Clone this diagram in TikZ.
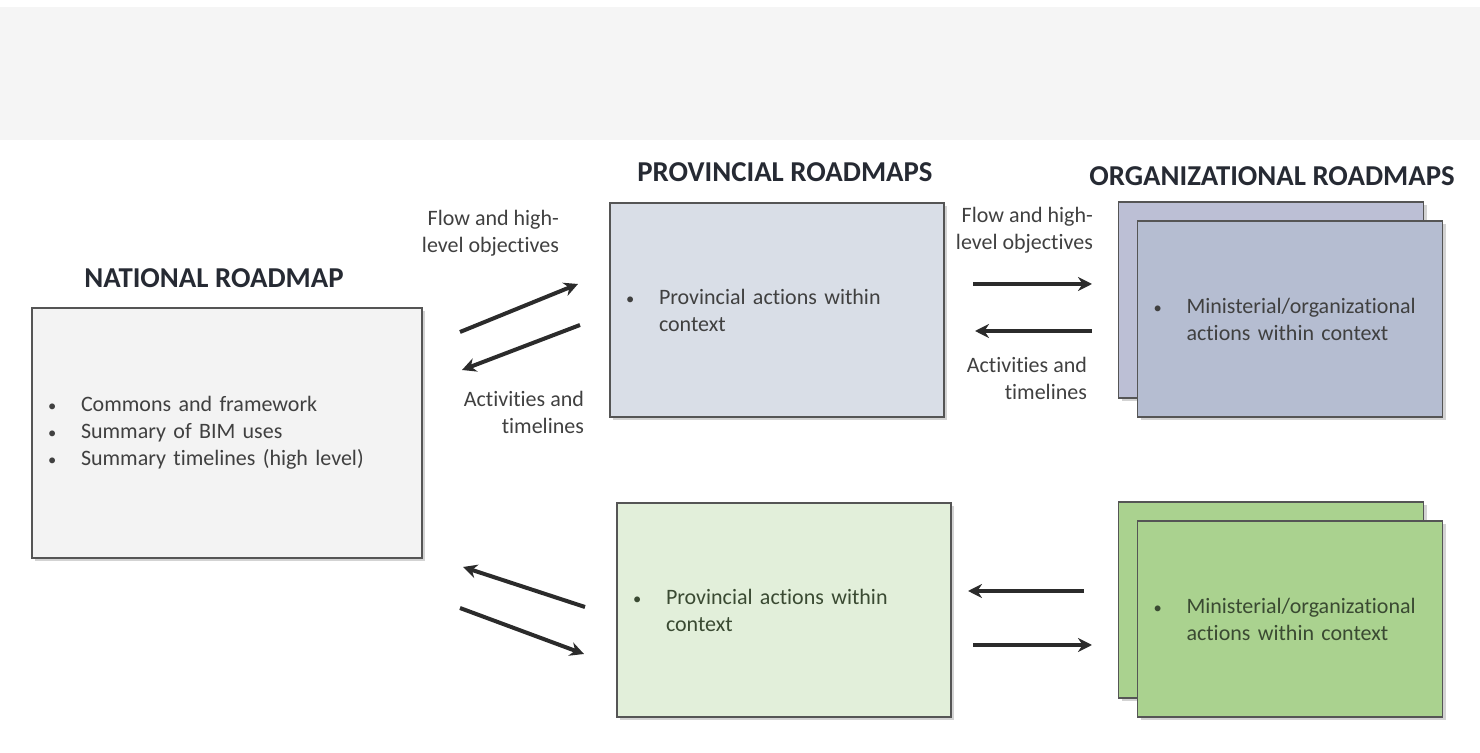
\documentclass[tikz,border=0pt]{standalone}
\usepackage{fontspec}
\setmainfont{Carlito}[Ligatures=NoCommon]
\usepackage{tikz}
\usetikzlibrary{arrows.meta, shadows}

\definecolor{bandgray}{HTML}{F5F5F5}
\definecolor{natfill}{HTML}{F3F3F3}
\definecolor{provfill}{HTML}{D9DEE7}
\definecolor{orgbackfill}{HTML}{BCBFD5}
\definecolor{orgfill}{HTML}{B5BDD1}
\definecolor{provgreen}{HTML}{E2EFDA}
\definecolor{orggreen}{HTML}{AAD28F}
\definecolor{boxline}{HTML}{555555}
\definecolor{arrowcol}{HTML}{2B2B2B}
\definecolor{textcol}{HTML}{404040}
\definecolor{greentext}{HTML}{3A4A32}
\definecolor{titlecol}{HTML}{262A33}

\newcommand{\bitem}[1]{\makebox[16.5pt][l]{\scalebox{0.75}{\textbullet}}#1}
\newcommand{\bcont}{\hspace*{16.5pt}}

\tikzset{
  roadbox/.style={draw=boxline, line width=0.8pt, align=left, inner xsep=8pt,
    text=textcol, font=\fontsize{11}{13.5}\selectfont,
    drop shadow={opacity=0.35, shadow xshift=1.5pt, shadow yshift=-1.5pt}},
  title/.style={font=\fontsize{14.4}{17}\selectfont\bfseries, text=titlecol},
  flowlabel/.style={anchor=east, align=right, text=textcol, font=\fontsize{11}{13.5}\selectfont},
  flow/.style={->, line width=2pt, draw=arrowcol},
}

\begin{document}
\begin{tikzpicture}[x=0.5pt, y=-0.5pt, >={Stealth[length=7pt,width=7pt]}]
  \useasboundingbox (0,0) rectangle (1480,753);
  % bandeau gris en haut
  \fill[bandgray] (0,7) rectangle (1480,140);

  % titres
  \node[title] (natTitle) at (214,278) {NATIONAL ROADMAP};
  \node[title] (provTitle) at (785,172) {PROVINCIAL ROADMAPS};
  \node[title] (orgTitle) at (1272,176) {ORGANIZATIONAL ROADMAPS};

  % feuille de route nationale
  \node[roadbox, fill=natfill, text width=179pt, minimum height=125pt] (nat) at (227,433)
    {\bitem{Commons and framework}\\ \bitem{Summary of BIM uses}\\ \bitem{Summary timelines (high level)}};

  % provinces
  \node[roadbox, fill=provfill, text width=151pt, minimum height=107pt] (provA) at (777,310)
    {\bitem{Provincial actions within}\\ \bcont context\\[14pt]};
  \node[roadbox, fill=provgreen, text=greentext, text width=151pt, minimum height=107pt] (provB) at (784,610)
    {\bitem{Provincial actions within}\\ \bcont context\\[14pt]};

  % organisations (piles de deux feuilles)
  \node[roadbox, fill=orgbackfill, text width=136.5pt, minimum height=98pt] (orgAback) at (1271,300) {};
  \node[roadbox, fill=orgfill, text width=136.5pt, minimum height=98pt] (orgA) at (1290,319)
    {\bitem{Ministerial/organizational}\\ \bcont actions within context};
  \node[roadbox, fill=orggreen, text width=136.5pt, minimum height=98pt] (orgBback) at (1271,600) {};
  \node[roadbox, fill=orggreen, text=greentext, text width=136.5pt, minimum height=98pt] (orgB) at (1290,619)
    {\bitem{Ministerial/organizational}\\ \bcont actions within context};

  % etiquettes des fleches
  \node[flowlabel] (flowA) at (566,233) {Flow and high-\\level objectives};
  \node[flowlabel] (actA) at (591,412) {Activities and\\timelines};
  \node[flowlabel] (flowB) at (1100,230) {Flow and high-\\level objectives};
  \node[flowlabel] (actB) at (1094,378) {Activities and\\timelines};

  % extremites des fleches
  \coordinate (a1s) at (460,332); \coordinate (a1e) at (578,284);
  \coordinate (a2s) at (580,325); \coordinate (a2e) at (462,370);
  \coordinate (a3s) at (973,284); \coordinate (a3e) at (1092,284);
  \coordinate (a4s) at (1092,331); \coordinate (a4e) at (975,331);
  \coordinate (b1s) at (585,607); \coordinate (b1e) at (463,567);
  \coordinate (b2s) at (460,608); \coordinate (b2e) at (584,654);
  \coordinate (b3s) at (1084,591); \coordinate (b3e) at (968,591);
  \coordinate (b4s) at (973,645); \coordinate (b4e) at (1092,645);

  \foreach \s/\e in {a1s/a1e, a2s/a2e, a3s/a3e, a4s/a4e, b1s/b1e, b2s/b2e, b3s/b3e, b4s/b4e}
    \draw[flow] (\s) -- (\e);
\end{tikzpicture}
\end{document}
